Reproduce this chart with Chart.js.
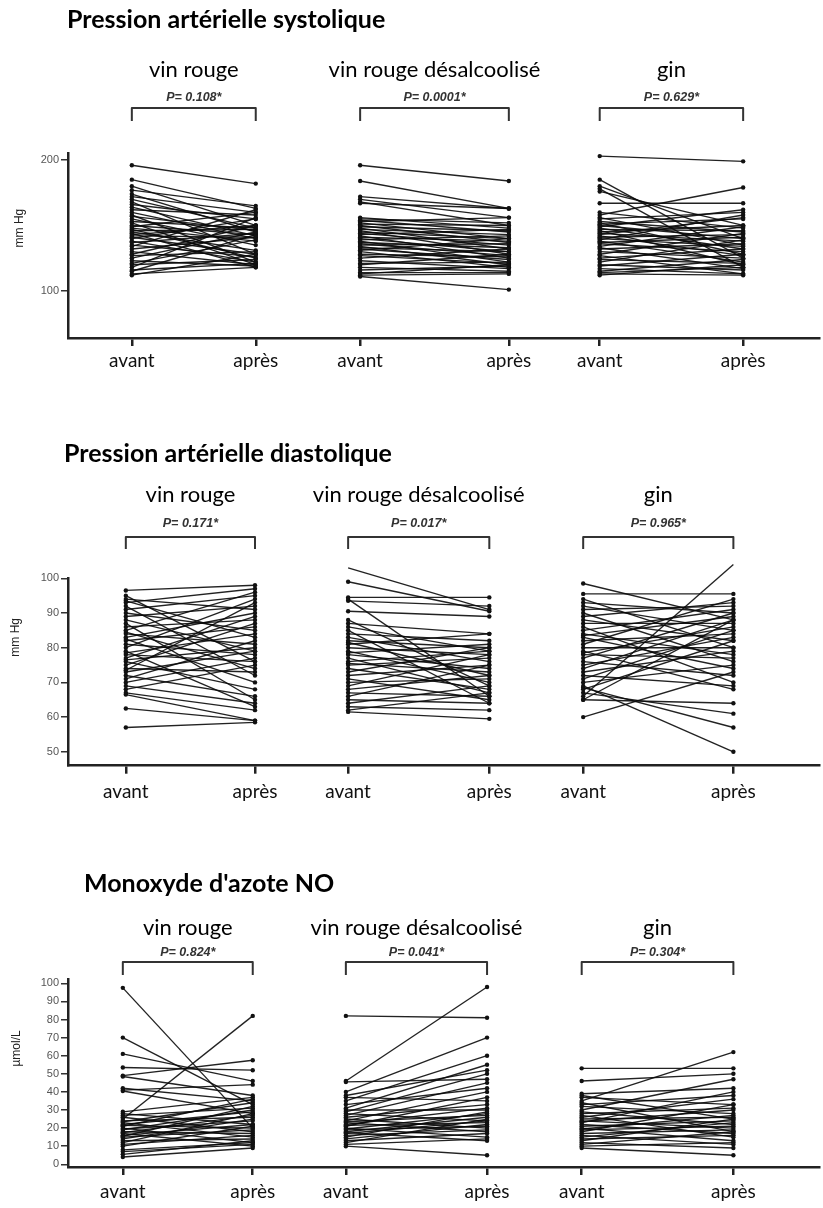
<!DOCTYPE html>
<html lang="fr">
<head>
<meta charset="UTF-8">
<title>Pression artérielle et monoxyde d'azote</title>
<script src="https://cdn.jsdelivr.net/npm/chart.js"></script>
<style>
  body { margin: 0; background: #fff; }
  .page { position: relative; width: 823px; height: 1208px; overflow: hidden; }
  .panel { position: absolute; left: 0; width: 823px; }
  .page h2 {
    position: absolute; margin: 0; z-index: 2;
    font-family: Lato, sans-serif; font-weight: 700; font-size: 25px; line-height: 30px;
    color: #000; white-space: nowrap;
  }
</style>
</head>
<body>
<div class="page">
  <div class="panel" style="top:0; height:400px"><canvas id="sysChart"></canvas></div>
  <div class="panel" style="top:400px; height:420px"><canvas id="diaChart"></canvas></div>
  <div class="panel" style="top:820px; height:388px"><canvas id="noChart"></canvas></div>
  <h2 style="left:67px; top:3px">Pression artérielle systolique</h2>
  <h2 style="left:64px; top:437px">Pression artérielle diastolique</h2>
  <h2 style="left:84px; top:867px">Monoxyde d'azote NO</h2>
</div>

<script>
// categories
const groups = ['vin rouge', 'vin rouge désalcoolisé', 'gin'];
const slotLabels = ['avant', 'après'];

// p values per panel
const pSys = ['0.108', '0.0001', '0.629'];
const pDia = ['0.171', '0.017', '0.965'];
const pNo = ['0.824', '0.041', '0.304'];

// tick labels
const sysTicks = [100, 200];
const diaTicks = [50, 60, 70, 80, 90, 100];
const noTicks = [0, 10, 20, 30, 40, 50, 60, 70, 80, 90, 100];

// systolic (mm Hg), one entry per subject, avant / après
const sysVinAvant = [196,185,180,177,174,172,170,168,166,164,162,160,158,157,155,153,152,150,149,148,147,146,145,144,143,142,141,140,138,137,135,134,132,130,128,127,125,123,121,120,118,116,115,113,112];
const sysVinApres = [182,163,150,165,145,160,148,128,155,142,158,140,122,146,135,148,120,143,160,138,125,147,131,118,150,141,128,155,122,144,126,162,141,120,150,130,145,119,139,124,156,121,143,118,128];
const sysDesAvant = [196,184,172,170,168,167,156,155,154,153,152,151,150,149,148,147,146,145,144,143,142,141,140,139,138,137,136,135,134,133,132,131,130,128,127,125,123,121,120,118,116,114,113,112,111];
const sysDesApres = [184,163,163,156,150,163,148,152,145,156,140,150,137,146,132,143,128,140,135,147,125,138,130,142,122,133,127,136,120,130,124,140,118,126,121,132,117,122,128,115,119,114,120,113,101];
const sysGinAvant = [203,185,180,178,176,167,160,158,156,155,153,152,151,150,149,148,147,146,145,144,143,142,141,140,139,138,137,136,134,133,132,130,128,127,125,124,122,120,119,117,115,114,113,112];
const sysGinApres = [199,125,140,118,150,167,148,179,135,160,145,128,155,140,162,132,146,120,150,138,156,127,143,134,158,122,141,130,149,117,136,125,144,113,132,121,139,116,128,113,124,118,112,120];

// diastolic (mm Hg)
const diaVinAvant = [96.5,95,94,93.5,93,92,91,90,89,88,87,86,85,84.5,84,83,82.5,82,81,80,79,78.5,78,77,76.5,76,75,74,73.5,73,72,71,70,69,68,67,66.5,62.5,57];
const diaVinApres = [98,76,91,83,97,72,95,85,92,79,65,88,96,74,81,90,70,86,78,94,63,84,76,89,80,68,87,73,93,79,66,82,77,64,75,62,59,59,58.5];
const diaDesAvant = [103,99,94.5,94,93.5,90.5,88,87,86,85,84,83,82,81.5,81,80,79,78.5,78,77,76,75.5,75,74,73,72,71,70,69,68,67,66,65,64,63,62,61.5];
const diaDesApres = [91,90.5,94.5,66,92,89,69,84,79,64,82,76,80,72,84,78,70,81,74,67,79,73,77,68,80,75,65,71,78,72,66,75,64,69,62,67,59.5];
const diaGinAvant = [98.5,95.5,94,93,92,91,90,89,88,87,86,85,84,83.5,83,82,81,80,79,78.5,78,77,76,75,74,73,72,71,70,69,68.5,68,67,66,65,65,60];
const diaGinApres = [88,95.5,80,90,85,92,76,93,82,87,70,91,78,89,74,84,94,80,68,86,77,90,72,83,88,79,69,85,75,50,57,82,61,104,88,64,73];

// NO (µmol/L)
const noVinAvant = [97.5,70,61,53.5,49,48.5,42,41,40.5,29,28,27,26,25,24,23.5,23,22,21.5,21,20,19.5,19,18,17.5,17,16,15.5,15,14,13,12,11,10,8,7,5.5,4];
const noVinApres = [20,33,46,52,57.5,38,35,44,28,37,22,31,18,82,26,34,15,29,20,36,12,24,30,17,27,10,22,32,19,25,14,28,16,21,12,11,13,9];
const noDesAvant = [82,46,45.5,40,38,37,35,33,31,30,29,28,27,26,25,24,23.5,23,22,21.5,21,20,19.5,19,18,17.5,17,16,15,14,13,12,11,10];
const noDesApres = [81,98,47,70,52,35,60,42,55,30,50,24,45,33,20,40,27,18,31,23,37,15,28,21,26,13,24,19,29,22,17,25,14,5];
const noGinAvant = [53,46,39,38,37,35,34,33,32,30,29,28,27,26,25,24,23.5,23,22,21,20,19.5,19,18,17,16,15,14,13,12,11,10,9];
const noGinApres = [53,50,42,25,33,62,18,38,28,47,22,31,15,36,26,20,30,40,17,24,13,27,21,33,19,11,23,16,25,9,18,12,5];

// brackets, group names, p values and the rotated unit label
const groupMarks = {
  id: 'groupMarks',
  afterDraw(chart, args, o) {
    const ctx = chart.ctx, x = chart.scales.x, y = chart.scales.y;
    ctx.save();
    ctx.textAlign = 'center';
    ctx.textBaseline = 'alphabetic';
    ctx.lineJoin = 'round';
    groups.forEach((name, i) => {
      const a = x.getPixelForValue(o.slots[2 * i]);
      const b = x.getPixelForValue(o.slots[2 * i + 1]);
      const mid = (a + b) / 2;
      ctx.fillStyle = '#000';
      ctx.font = '22px Lato, sans-serif';
      ctx.fillText(name, mid, o.labelY);
      ctx.fillStyle = '#333';
      ctx.font = 'italic bold 12.5px "Liberation Sans", Arial, sans-serif';
      ctx.fillText('P= ' + o.pValues[i] + '*', mid, o.pY);
      ctx.strokeStyle = '#333';
      ctx.lineWidth = 2;
      ctx.beginPath();
      ctx.moveTo(a, o.bracketBottom);
      ctx.lineTo(a, o.bracketTop);
      ctx.lineTo(b, o.bracketTop);
      ctx.lineTo(b, o.bracketBottom);
      ctx.stroke();
    });
    ctx.translate(o.unitX, y.getPixelForValue(o.unitAt));
    ctx.rotate(-Math.PI / 2);
    ctx.textBaseline = 'middle';
    ctx.fillStyle = '#222';
    ctx.font = '12px "Liberation Sans", Arial, sans-serif';
    ctx.fillText(o.unit, 0, 0);
    ctx.restore();
  }
};

function makeChart(id, cfg) {
  const datasets = [];
  cfg.pairs.forEach(([before, after], g) => {
    before.forEach((b, i) => {
      datasets.push({
        data: [{ x: cfg.slots[2 * g], y: b }, { x: cfg.slots[2 * g + 1], y: after[i] }],
        borderColor: 'rgba(10,10,10,0.9)',
        borderWidth: 1.35,
        pointRadius: 2.2,
        pointBorderWidth: 0,
        pointBackgroundColor: '#111',
        clip: false
      });
    });
  });

  return new Chart(document.getElementById(id), {
    type: 'line',
    data: { datasets },
    options: {
      responsive: true,
      maintainAspectRatio: false,
      animation: false,
      events: [],
      layout: { padding: { top: cfg.padTop, bottom: cfg.padBottom, left: 0, right: 4 } },
      plugins: {
        legend: { display: false },
        tooltip: { enabled: false },
        groupMarks: cfg.marks
      },
      scales: {
        x: {
          type: 'linear',
          min: 0,
          max: 100,
          afterFit: s => { s.height = 40; },
          afterBuildTicks: s => { s.ticks = cfg.slots.map(v => ({ value: v })); },
          border: { color: '#222', width: 2.5 },
          grid: { drawOnChartArea: false, drawTicks: true, tickLength: 8, lineWidth: 2.5, color: '#222' },
          ticks: {
            autoSkip: false,
            maxRotation: 0,
            padding: cfg.labelPad,
            color: '#111',
            font: { family: 'Lato, sans-serif', size: 19 },
            callback: (v, i) => slotLabels[i % 2]
          }
        },
        y: {
          min: cfg.yMin,
          max: cfg.yMax,
          afterFit: s => { s.width = 68; },
          afterBuildTicks: s => { s.ticks = cfg.ticks.map(v => ({ value: v })); },
          border: { color: '#222', width: 2.5 },
          grid: { drawOnChartArea: false, drawTicks: true, tickLength: 7, lineWidth: 1.5, color: '#333' },
          ticks: {
            padding: 2,
            color: '#555',
            font: { family: '"Liberation Sans", Arial, sans-serif', size: 11 }
          }
        }
      }
    },
    plugins: [groupMarks]
  });
}

makeChart('sysChart', {
  pairs: [[sysVinAvant, sysVinApres], [sysDesAvant, sysDesApres], [sysGinAvant, sysGinApres]],
  slots: [8.5, 25.0, 38.9, 58.7, 70.8, 89.9],
  ticks: sysTicks, yMin: 64, yMax: 205,
  padTop: 153.5, padBottom: 22, labelPad: 3,
  marks: { slots: [8.5, 25.0, 38.9, 58.7, 70.8, 89.9], pValues: pSys, labelY: 77, pY: 101, bracketTop: 108, bracketBottom: 121, unit: 'mm Hg', unitX: 20, unitAt: 148 }
});

makeChart('diaChart', {
  pairs: [[diaVinAvant, diaVinApres], [diaDesAvant, diaDesApres], [diaGinAvant, diaGinApres]],
  slots: [7.7, 24.9, 37.3, 56.1, 68.6, 88.6],
  ticks: diaTicks, yMin: 46, yMax: 100,
  padTop: 178.3, padBottom: 14.3, labelPad: 7,
  marks: { slots: [7.7, 24.9, 37.3, 56.1, 68.6, 88.6], pValues: pDia, labelY: 102, pY: 127, bracketTop: 137, bracketBottom: 149, unit: 'mm Hg', unitX: 16, unitAt: 83 }
});

makeChart('noChart', {
  pairs: [[noVinAvant, noVinApres], [noDesAvant, noDesApres], [noGinAvant, noGinApres]],
  slots: [7.3, 24.6, 37.0, 55.8, 68.4, 88.6],
  ticks: noTicks, yMin: -1.5, yMax: 102,
  padTop: 159.7, padBottom: 1, labelPad: 5,
  marks: { slots: [7.3, 24.6, 37.0, 55.8, 68.4, 88.6], pValues: pNo, labelY: 115, pY: 136, bracketTop: 142, bracketBottom: 155, unit: 'µmol/L', unitX: 17, unitAt: 64 }
});
</script>
</body>
</html>
